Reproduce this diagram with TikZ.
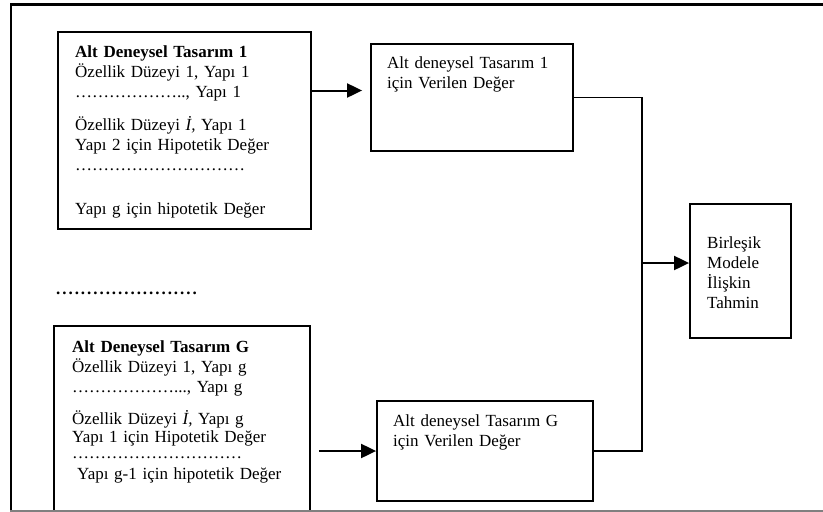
\documentclass[tikz,border=0pt]{standalone}
\usepackage{fontspec}
\setmainfont{Liberation Serif}
\usetikzlibrary{arrows.meta}
\newcommand\elli{…}
\newcommand\bdot{.\kern1.95pt}
\begin{document}
\begin{tikzpicture}[x=1pt,y=-1pt,
  box/.style={draw, line width=1.8pt, inner sep=0pt},
  txt/.style={anchor=base west, inner sep=0pt, text width=250pt, align=left,
    font=\fontsize{17}{20}\selectfont},
  conn/.style={line width=1.8pt},
  arr/.style={line width=2pt, -{Triangle[length=15pt,width=14pt]}}]
\useasboundingbox (0,0) rectangle (823,512);
% frame
\draw[line width=2.5pt] (10,4.5) -- (823,4.5);
\draw[line width=2pt] (11,3.5) -- (11,511);
% boxes
\node[box, minimum width=253pt, minimum height=197pt] (A1) at (184.5,130.5) {};
\node[box, minimum width=202pt, minimum height=107pt] (B1) at (472,97.5) {};
\node[box, minimum width=101pt, minimum height=134pt] (C) at (740.5,271) {};
\node[box, minimum width=256pt, minimum height=185pt] (A2) at (182,418.5) {};
\node[box, minimum width=216pt, minimum height=100pt] (B2) at (485,451) {};
\draw[gray, line width=1.5pt] (10,511) -- (823,511);
% texts
\node[txt] (A1t) at (75,57) {\textbf{Alt Deneysel Tasarım 1}\\
Özellik Düzeyi 1, Yapı 1\\
\elli\elli\elli\elli\elli\elli.., Yapı 1\\[13pt]
Özellik Düzeyi \textit{İ,} Yapı 1\\
Yapı 2 için Hipotetik Değer\\
\elli\elli\elli\elli\elli\elli\elli\elli\elli\elli\\[24pt]
Yapı g için hipotetik Değer};
\node[txt] (A2t) at (72,352) {\textbf{Alt Deneysel Tasarım G}\\
Özellik Düzeyi 1, Yapı g\\
\elli\elli\elli\elli\elli\elli..., Yapı g\\[12pt]
Özellik Düzeyi \textit{İ,} Yapı g\\[-2pt]
Yapı 1 için Hipotetik Değer\\[-4pt]
\elli\elli\elli\elli\elli\elli\elli\elli\elli\elli\\[1pt]
\hspace*{5pt}Yapı g-1 için hipotetik Değer};
\node[txt] (B1t) at (387,68) {Alt deneysel Tasarım 1\\için Verilen Değer};
\node[txt] (B2t) at (393,426) {Alt deneysel Tasarım G\\için Verilen Değer};
\node[txt] (Ct) at (707,248) {Birleşik\\Modele\\İlişkin\\Tahmin};
\node[anchor=base west, inner sep=0pt, font=\fontsize{17}{20}\selectfont\bfseries] (dots) at (56,294)
  {\bdot\bdot\bdot\bdot\bdot\bdot\bdot\bdot\bdot\bdot\bdot\bdot\bdot\bdot\bdot\bdot\bdot\bdot\bdot\bdot\bdot\bdot.};
% connectors
\coordinate (b1in) at ([yshift=7pt]B1.west);
\coordinate (cin) at ([yshift=8pt]C.west);
\coordinate (jx) at (642,271);
\draw[arr, shorten >=8pt] (A1.east |- b1in) -- (b1in);
\draw[arr, shorten <=8pt] (A2.east |- B2.west) -- (B2.west);
\draw[conn] (B1.east) -| (jx);
\draw[conn] (B2.east) -| (jx);
\draw[arr] (jx |- cin) -- (cin);
\end{tikzpicture}
\end{document}
